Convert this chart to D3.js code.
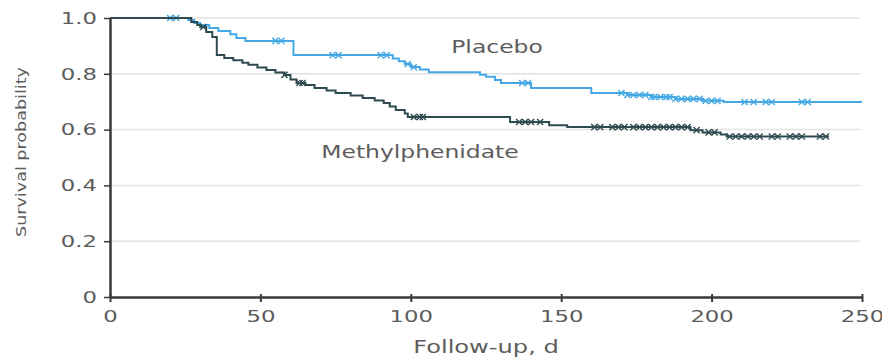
<!DOCTYPE html>
<html>
<head>
<meta charset="utf-8">
<script src="https://cdn.jsdelivr.net/npm/d3@7"></script>
<style>
  html,body{margin:0;padding:0;background:#fff}
  svg{display:block}
  text{font-family:'DejaVu Sans',sans-serif;fill:#5c5c5c}
</style>
</head>
<body>
<svg id="chart" width="882" height="357"></svg>
<script>
// Kaplan-Meier step data
const placeboTimes = [26, 28, 30, 33, 36, 40, 42, 45, 61, 94, 96, 98, 100, 103, 106, 123, 125, 128, 130, 140, 160, 172, 180, 188, 197, 204];
const placeboSurv  = [0.993, 0.982, 0.975, 0.964, 0.953, 0.942, 0.928, 0.918, 0.867, 0.855, 0.845, 0.835, 0.824, 0.815, 0.806, 0.797, 0.789, 0.778, 0.767, 0.749, 0.731, 0.724, 0.717, 0.710, 0.703, 0.699];
const placeboCensor = [20, 22, 55, 57, 74, 76, 90, 92, 99, 101, 137, 139, 170, 172, 174, 176, 178, 180, 181, 183, 185, 186, 188, 190, 192, 194, 196, 198, 200, 202, 211, 214, 218, 220, 230, 232];
const placeboEnd = 250;

const mphTimes = [27, 29, 30, 32, 34, 35.5, 38, 41, 44, 46, 49, 52, 55, 58, 60, 62, 65, 68, 72, 75, 80, 84, 88, 91, 93, 95, 98, 99, 133, 146, 152, 193, 197, 203, 205];
const mphSurv  = [0.986, 0.975, 0.968, 0.95, 0.932, 0.867, 0.857, 0.849, 0.84, 0.832, 0.823, 0.814, 0.805, 0.796, 0.78, 0.767, 0.76, 0.749, 0.74, 0.731, 0.722, 0.713, 0.704, 0.695, 0.683, 0.67, 0.658, 0.645, 0.627, 0.616, 0.609, 0.598, 0.59, 0.582, 0.575];
const mphCensor = [31, 58, 63, 64, 101, 103, 104, 136, 138, 140, 143, 161, 163, 167, 169, 171, 174, 176, 178, 180, 182, 184, 186, 188, 190, 192, 195, 199, 201, 206, 208, 210, 212, 214, 216, 220, 222, 226, 228, 230, 236, 238];
const mphEnd = 239;

const xTicks = [0, 50, 100, 150, 200, 250];
const yTicks = [0, 0.2, 0.4, 0.6, 0.8, 1.0];
const gridTicks = [0.2, 0.4, 0.6, 0.8, 1.0];

const COL_PLACEBO = '#45a8e4';
const COL_MPH = '#2e4b50';
const SX = 1.38; // the figure's lettering is stretched horizontally

const svg = d3.select('#chart');
const x = d3.scaleLinear().domain([0, 250]).range([110, 862]);
const y = d3.scaleLinear().domain([0, 1]).range([297, 18]);

// grid
svg.append('g').selectAll('line').data(gridTicks).enter().append('line')
  .attr('x1', x(0)).attr('x2', 860).attr('y1', d => y(d)).attr('y2', d => y(d))
  .attr('stroke', '#e2e2e2').attr('stroke-width', 1.5);

// curves
function stepPoints(times, surv, end) {
  const pts = [[0, 1]];
  times.forEach((t, i) => pts.push([t, surv[i]]));
  pts.push([end, surv[surv.length - 1]]);
  return pts;
}
function survAt(times, surv, t) {
  let s = 1;
  times.forEach((tt, i) => { if (tt <= t) s = surv[i]; });
  return s;
}
const line = d3.line().x(d => x(d[0])).y(d => y(d[1])).curve(d3.curveStepAfter);

const series = [
  { times: placeboTimes, surv: placeboSurv, censor: placeboCensor, end: placeboEnd, color: COL_PLACEBO },
  { times: mphTimes, surv: mphSurv, censor: mphCensor, end: mphEnd, color: COL_MPH },
];
series.forEach(s => {
  svg.append('path').datum(stepPoints(s.times, s.surv, s.end))
    .attr('d', line).attr('fill', 'none').attr('stroke', s.color).attr('stroke-width', 2);
  svg.append('g').selectAll('path').data(s.censor).enter().append('path')
    .attr('d', d3.symbol().type(d3.symbolX).size(26))
    .attr('transform', d => `translate(${x(d)},${y(survAt(s.times, s.surv, d))})`)
    .attr('fill', 'none').attr('stroke', s.color).attr('stroke-width', 1.4);
});

// axes
const gx = svg.append('g').attr('transform', `translate(0,${y(0)})`)
  .call(d3.axisBottom(x).tickValues(xTicks).tickSize(5).tickSizeOuter(0).tickFormat(d3.format('d')));
gx.select('.domain').attr('stroke', '#3a3a3a').attr('stroke-width', 2.5);
gx.selectAll('.tick line').attr('stroke', '#3a3a3a').attr('stroke-width', 2).attr('y1', -3);
gx.selectAll('.tick text').attr('y', 25).attr('dy', 0).attr('fill', null)
  .style('font-size', '16.5px').attr('transform', `scale(${SX},1)`);

const gy = svg.append('g').attr('transform', `translate(${x(0)},0)`)
  .call(d3.axisLeft(y).tickValues(yTicks).tickSize(6).tickSizeOuter(0)
    .tickFormat(d => d === 0 ? '0' : d3.format('.1f')(d)));
gy.select('.domain').attr('stroke', '#3a3a3a').attr('stroke-width', 2.5);
gy.selectAll('.tick line').attr('stroke', '#3a3a3a').attr('stroke-width', 1.5);
gy.selectAll('.tick text').attr('x', -13 / SX).attr('fill', null)
  .style('font-size', '16.5px').attr('transform', `scale(${SX},1)`);

// titles and series labels
function label(txt, cx, by, size) {
  svg.append('text').attr('transform', `translate(${cx},${by}) scale(${SX},1)`)
    .attr('text-anchor', 'middle').style('font-size', size + 'px').text(txt);
}
label('Follow-up, d', 486, 353, 17.5);
label('Placebo', 497, 53, 17);
label('Methylphenidate', 420, 158, 17);

svg.append('text').attr('transform', 'translate(26,152) rotate(-90)')
  .attr('text-anchor', 'middle').style('font-size', '14px')
  .attr('textLength', 170).attr('lengthAdjust', 'spacingAndGlyphs')
  .text('Survival probability');
</script>
</body>
</html>
